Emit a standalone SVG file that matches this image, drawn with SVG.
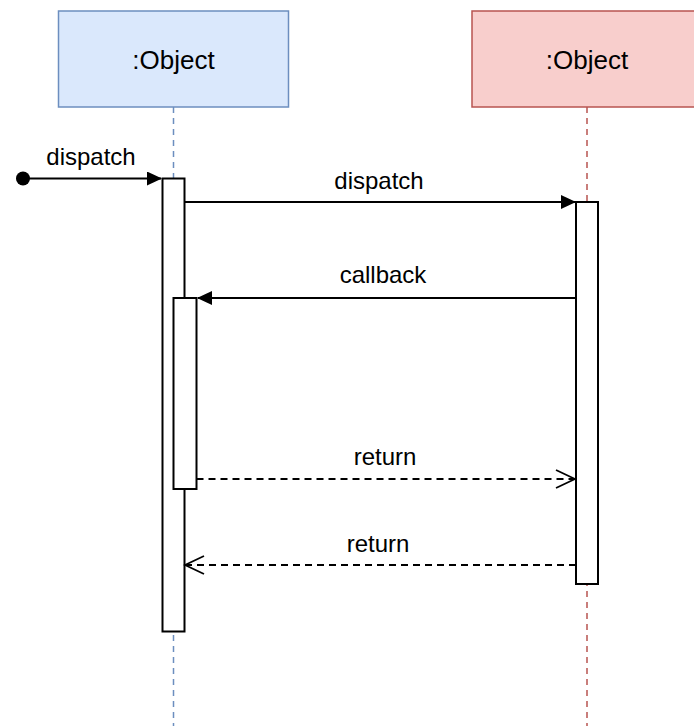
<svg xmlns="http://www.w3.org/2000/svg" width="694" height="726" viewBox="0 0 694 726">
<style>
text{font-family:"Liberation Sans",Arial,Helvetica,sans-serif;fill:#000;text-anchor:middle}
.obj{font-size:26px}
.lbl{font-size:24px}
.bar{fill:#fff;stroke:#000;stroke-width:2}
.msg{fill:none;stroke:#000;stroke-width:2}
.ret{fill:none;stroke:#000;stroke-width:1.8;stroke-dasharray:7 5}
.ll{stroke-width:1.5;stroke-dasharray:6 5}
</style>
<defs>
<marker id="fill" markerWidth="15" markerHeight="14" refX="14" refY="7" orient="auto" markerUnits="userSpaceOnUse">
<path d="M0,0 L15,7 L0,14 Z" fill="#000"/>
</marker>
<marker id="open" markerWidth="22" markerHeight="20" refX="20" refY="10" orient="auto" markerUnits="userSpaceOnUse">
<path d="M1,1 L20,10 L1,19" fill="none" stroke="#000" stroke-width="1.8"/>
</marker>
</defs>
<g id="lifeline-a">
<line class="ll" x1="173.5" y1="107" x2="173.5" y2="726" stroke="#6c8ebf"/>
<rect x="58.5" y="11" width="230" height="96" fill="#dae8fc" stroke="#6c8ebf" stroke-width="1.5"/>
<text class="obj" x="173.5" y="68.5">:Object</text>
</g>
<g id="lifeline-b">
<line class="ll" x1="587" y1="107" x2="587" y2="726" stroke="#b85450"/>
<rect x="472" y="11" width="230" height="96" fill="#f8cecc" stroke="#b85450" stroke-width="1.5"/>
<text class="obj" x="587" y="68.5">:Object</text>
</g>
<g id="activation-a">
<rect class="bar" x="162.5" y="178.5" width="22" height="453"/>
</g>
<g id="activation-a2">
<rect class="bar" x="173.5" y="298" width="23" height="191"/>
</g>
<g id="activation-b">
<rect class="bar" x="576" y="202" width="22" height="382"/>
</g>
<g id="connectors">
<circle cx="23" cy="178.5" r="7" fill="#000"/>
<line class="msg" x1="23" y1="178.5" x2="161" y2="178.5" marker-end="url(#fill)"/>
<text class="lbl" x="91" y="165">dispatch</text>
<line class="msg" x1="184.5" y1="202" x2="575" y2="202" marker-end="url(#fill)"/>
<text class="lbl" x="379" y="189">dispatch</text>
<line class="msg" x1="576" y1="298" x2="198" y2="298" marker-end="url(#fill)"/>
<text class="lbl" x="383" y="283">callback</text>
<line class="ret" x1="196.5" y1="479" x2="575" y2="479" marker-end="url(#open)"/>
<text class="lbl" x="385" y="465">return</text>
<line class="ret" x1="576" y1="565" x2="185" y2="565" marker-end="url(#open)"/>
<text class="lbl" x="378" y="552">return</text>
</g>
</svg>
